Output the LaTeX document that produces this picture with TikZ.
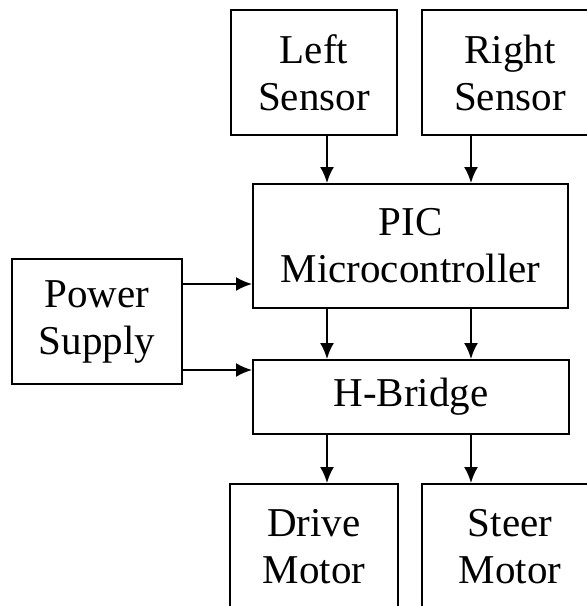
\documentclass[tikz,border=0pt]{standalone}
\usepackage{fontspec}
\setmainfont{Liberation Serif}
\usetikzlibrary{positioning,arrows.meta}

\tikzset{
  blk/.style={draw,line width=1pt,align=center,inner sep=0pt},
  flow/.style={-{Latex[length=8pt,width=7pt]},line width=1pt}
}

\begin{document}
\begin{tikzpicture}[x=0.5pt,y=-0.5pt,font=\fontsize{20.5}{23.5}\selectfont]
  \useasboundingbox (0,0) rectangle (587,606);
  \clip (0,0) rectangle (587,606);
  % blocks
  \node[blk,minimum width=83pt,minimum height=62.5pt] (lsens) at (314,72.5) {Left\\Sensor};
  \node[blk,minimum width=88pt,minimum height=62.5pt] (rsens) at (510,72.5) {Right\\Sensor};
  \node[blk,minimum width=157.5pt,minimum height=62pt] (pic) at (410.5,246) {PIC\\Microcontroller};
  \node[blk,minimum width=85pt,minimum height=62.5pt] (psu) at (97,321.5) {Power\\Supply};
  \node[blk,minimum width=158pt,minimum height=37pt] (hb) at (411,397) {H-Bridge};
  \node[blk,minimum width=84pt,minimum height=62.5pt] (drive) at (314,546.5) {Drive\\Motor};
  \node[blk,minimum width=88pt,minimum height=62.5pt] (steer) at (510,546.5) {Steer\\Motor};
  % arrow lanes
  \coordinate (xl) at (327,0);
  \coordinate (xr) at (471,0);
  \coordinate (yu) at (0,284);
  \coordinate (yd) at (0,370);
  \draw[flow] (lsens.south -| xl) -- (pic.north -| xl);
  \draw[flow] (rsens.south -| xr) -- (pic.north -| xr);
  \draw[flow] (psu.east |- yu) -- (pic.west |- yu);
  \draw[flow] (psu.east |- yd) -- (hb.west |- yd);
  \draw[flow] (pic.south -| xl) -- (hb.north -| xl);
  \draw[flow] (pic.south -| xr) -- (hb.north -| xr);
  \draw[flow] (hb.south -| xl) -- (drive.north -| xl);
  \draw[flow] (hb.south -| xr) -- (steer.north -| xr);
\end{tikzpicture}
\end{document}
